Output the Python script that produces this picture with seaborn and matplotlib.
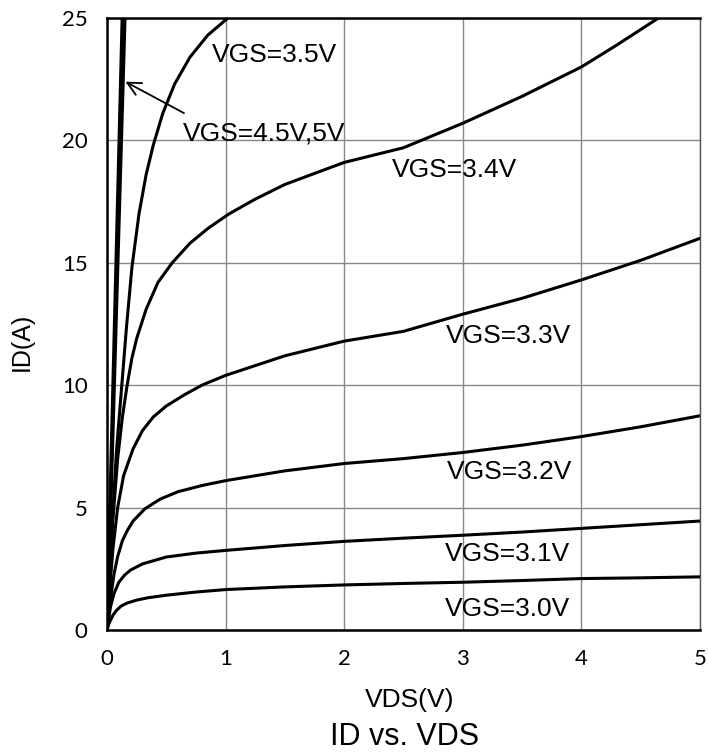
import pandas as pd
import seaborn as sns
import matplotlib.pyplot as plt

# Curve data
vds_30 = [0, 0.02, 0.05, 0.08, 0.12, 0.17, 0.25, 0.35, 0.5, 0.75, 1, 1.5, 2, 2.5, 3, 3.5, 4, 4.5, 5]
id_30 = [0, 0.3, 0.6, 0.8, 0.98, 1.1, 1.22, 1.32, 1.42, 1.55, 1.65, 1.76, 1.84, 1.9, 1.95, 2.02, 2.1, 2.13, 2.17]

vds_31 = [0, 0.03, 0.06, 0.1, 0.15, 0.2, 0.3, 0.5, 0.75, 1, 1.5, 2, 2.5, 3, 3.5, 4, 4.5, 5]
id_31 = [0, 0.95, 1.5, 1.95, 2.25, 2.45, 2.7, 2.98, 3.14, 3.25, 3.45, 3.62, 3.75, 3.87, 4.0, 4.15, 4.3, 4.45]

vds_32 = [0, 0.03, 0.06, 0.09, 0.13, 0.17, 0.22, 0.32, 0.45, 0.6, 0.8, 1, 1.5, 2, 2.5, 3, 3.5, 4, 4.5, 5]
id_32 = [0, 1.3, 2.3, 3.0, 3.65, 4.05, 4.45, 4.95, 5.35, 5.65, 5.9, 6.1, 6.5, 6.8, 7.0, 7.25, 7.55, 7.9, 8.3, 8.75]

vds_33 = [0, 0.02, 0.05, 0.09, 0.14, 0.22, 0.3, 0.39, 0.5, 0.65, 0.8, 1, 1.5, 2, 2.5, 3, 3.5, 4, 4.5, 5]
id_33 = [0, 1.5, 3.3, 5.0, 6.3, 7.4, 8.15, 8.7, 9.15, 9.6, 10.0, 10.4, 11.2, 11.8, 12.2, 12.9, 13.55, 14.3, 15.1, 16.0]

vds_34 = [0, 0.02, 0.05, 0.09, 0.13, 0.17, 0.21, 0.25, 0.33, 0.43, 0.55, 0.7, 0.85, 1.03, 1.25, 1.5,
          2, 2.5, 3, 3.5, 4, 4.3, 4.65]
id_34 = [0, 2.0, 4.5, 7.0, 8.7, 10.0, 11.1, 11.9, 13.1, 14.2, 15.0, 15.8, 16.4, 17.0, 17.6, 18.2,
         19.1, 19.7, 20.7, 21.8, 23.0, 23.9, 25.0]

vds_35 = [0, 0.04, 0.08, 0.125, 0.165, 0.21, 0.27, 0.33, 0.39, 0.47, 0.57, 0.7, 0.85, 1.02]
id_35 = [0, 4.0, 7.3, 10.0, 12.4, 14.8, 17.0, 18.6, 19.8, 21.1, 22.3, 23.4, 24.3, 25.0]

vds_45 = [0, 0.15]
id_45 = [0, 25]
vds_50 = [0, 0.13]
id_50 = [0, 25]

curves = [
    (vds_30, id_30, 2.2), (vds_31, id_31, 2.2), (vds_32, id_32, 2.2),
    (vds_33, id_33, 2.2), (vds_34, id_34, 2.2), (vds_35, id_35, 2.2),
    (vds_45, id_45, 2.6), (vds_50, id_50, 2.6),
]

# label text and its left/center position in data coords
labels = ['VGS=3.5V', 'VGS=4.5V,5V', 'VGS=3.4V', 'VGS=3.3V', 'VGS=3.2V', 'VGS=3.1V', 'VGS=3.0V']
label_x = [0.885, 0.64, 2.40, 2.86, 2.87, 2.85, 2.85]
label_y = [23.5, 20.3, 18.8, 12.0, 6.47, 3.1, 0.86]

sns.set_style('white')
plt.rcParams['font.family'] = ['Liberation Sans', 'DejaVu Sans']
plt.rcParams['text.color'] = 'black'
plt.rcParams['axes.labelcolor'] = 'black'
plt.rcParams['xtick.color'] = 'black'
plt.rcParams['ytick.color'] = 'black'

fig = plt.figure(figsize=(7.08, 7.56), dpi=100)
ax = fig.add_axes([0.1511, 0.1667, 0.8376, 0.8095])

for xs, ys, lw in curves:
    sns.lineplot(x=xs, y=ys, ax=ax, color='black', linewidth=lw, sort=False, estimator=None,
                 solid_joinstyle='round', solid_capstyle='round')

for txt, tx, ty in zip(labels, label_x, label_y):
    ax.text(tx, ty, txt, fontsize=19, ha='left', va='center', color='black')

ax.annotate('', xy=(0.135, 22.45), xytext=(0.67, 21.06),
            arrowprops=dict(arrowstyle='->', color='black', lw=1.3, mutation_scale=24))

ax.set_xlim(0, 5)
ax.set_ylim(0, 25)
ax.set_xticks([0, 1, 2, 3, 4, 5])
ax.set_yticks([0, 5, 10, 15, 20, 25])
ax.grid(True, color='#888888', linewidth=1.0)
ax.set_axisbelow(True)

for side in ['top', 'left', 'bottom']:
    ax.spines[side].set_color('black')
    ax.spines[side].set_linewidth(1.8)
ax.spines['right'].set_color('#555555')
ax.spines['right'].set_linewidth(1.0)

ax.tick_params(axis='both', length=0, labelsize=16, labelcolor='black')
ax.tick_params(axis='x', pad=14)
ax.tick_params(axis='y', pad=14)
for lab in ax.get_xticklabels() + ax.get_yticklabels():
    lab.set_family('Lato')

ax.set_xlabel('VDS(V)', fontsize=19, color='black')
ax.set_ylabel('ID(A)', fontsize=18, color='black')
ax.xaxis.set_label_coords(0.511, -0.094)
ax.yaxis.set_label_coords(-0.123, 0.47)

fig.text(0.572, 0.025, 'ID vs. VDS', fontsize=22, ha='center', va='center', color='black')

fig.savefig('out.png', dpi=100)
